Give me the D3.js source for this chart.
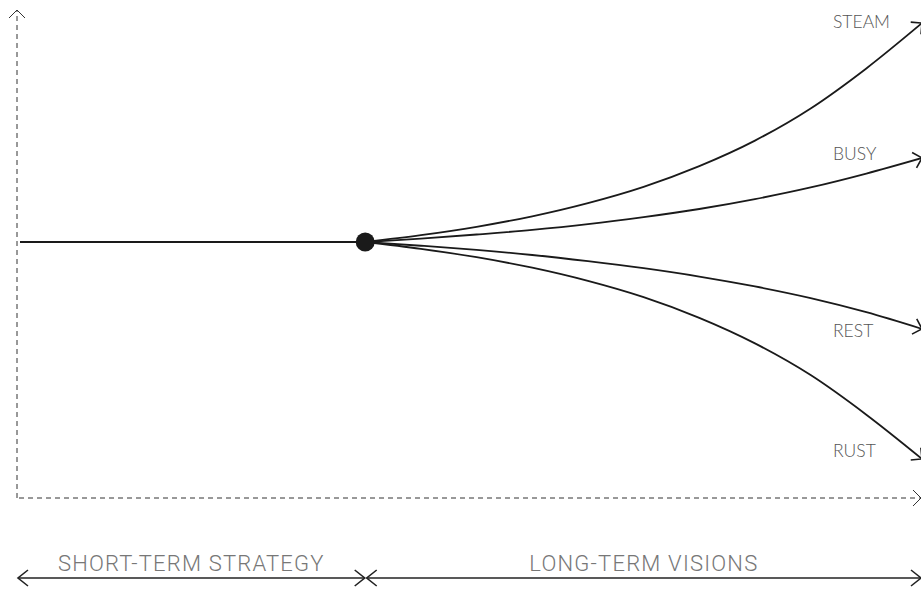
<!DOCTYPE html>
<html>
<head>
<meta charset="utf-8">
<script src="https://cdn.jsdelivr.net/npm/d3@7"></script>
<style>
  html, body { margin: 0; padding: 0; background: #fff; }
  svg { display: block; }
</style>
</head>
<body>
<div id="chart"></div>
<script>
// ---- data ----
const scenarios = ["STEAM", "BUSY", "REST", "RUST"];
const futureSteps = [0, 1, 2, 3, 4, 5, 6, 7, 8, 9, 10];
const steamValues = [0, 0.31, 0.69, 1.17, 1.77, 2.51, 3.45, 4.61, 6.07, 7.89, 9.95];
const busyValues  = [0, 0.15, 0.34, 0.55, 0.81, 1.13, 1.50, 1.95, 2.48, 3.11, 3.82];
const restValues  = [0, -0.17, -0.36, -0.59, -0.87, -1.19, -1.57, -2.02, -2.55, -3.19, -3.95];
const rustValues  = [0, -0.31, -0.69, -1.17, -1.77, -2.51, -3.45, -4.61, -6.05, -7.85, -9.86];
const pastSteps = [-6.2, 0];
const pastValues = [0, 0];
const periodLabels = ["SHORT-TERM STRATEGY", "LONG-TERM VISIONS"];
const periodRanges = [[-6.2, 0], [0, 10]];

const W = 921, H = 589;
const svg = d3.select("#chart").append("svg").attr("width", W).attr("height", H);

const x = d3.scaleLinear().domain([-6.2, 10]).range([20, 922]);
const y = d3.scaleLinear().domain([-10, 10]).range([462, 22]);

// markers
const defs = svg.append("defs");
function marker(id, color, w, path) {
  defs.append("marker")
    .attr("id", id).attr("markerUnits", "userSpaceOnUse")
    .attr("viewBox", "-12 -12 24 24").attr("markerWidth", 24).attr("markerHeight", 24)
    .attr("refX", 0).attr("refY", 0).attr("orient", "auto-start-reverse")
    .append("path").attr("d", path)
    .attr("fill", "none").attr("stroke", color).attr("stroke-width", w)
    .attr("stroke-linejoin", "miter");
}
marker("arr", "#1a1a1a", 1.6, "M-8,-8 L0,0 L-8,8");
marker("arrAxis", "#333", 1.0, "M-8,-8 L0,0 L-8,8");
marker("arrSpan", "#222", 1.6, "M-10,-8 L0,0 L-10,8");

// axes (dashed)
const axisX = 17, axisY = 498;
svg.append("line").attr("x1", axisX).attr("y1", axisY).attr("x2", axisX).attr("y2", 10)
  .attr("stroke", "#333").attr("stroke-width", 1).attr("stroke-dasharray", "5,4")
  .attr("marker-end", "url(#arrAxis)");
svg.append("line").attr("x1", axisX + 2).attr("y1", axisY).attr("x2", 921).attr("y2", axisY)
  .attr("stroke", "#333").attr("stroke-width", 1).attr("stroke-dasharray", "5,4")
  .attr("marker-end", "url(#arrAxis)");

// past line
const line = d3.line().x(d => x(d[0])).y(d => y(d[1])).curve(d3.curveMonotoneX);
svg.append("path")
  .attr("d", line(pastSteps.map((s, i) => [s, pastValues[i]])))
  .attr("fill", "none").attr("stroke", "#1a1a1a").attr("stroke-width", 1.8);

// scenarios
const series = [steamValues, busyValues, restValues, rustValues];
const labelDy = [5, 2, 8, -2];
series.forEach((vals, i) => {
  svg.append("path")
    .attr("d", line(futureSteps.map((s, j) => [s, vals[j]])))
    .attr("fill", "none").attr("stroke", "#1a1a1a").attr("stroke-width", 1.8)
    .attr("marker-end", "url(#arr)");
  svg.append("text")
    .attr("x", 833).attr("y", y(vals[vals.length - 1]) + labelDy[i])
    .attr("font-family", "'Lato Light', Lato, sans-serif").attr("font-weight", 300)
    .attr("font-size", 17.5).attr("fill", "#555")
    .text(scenarios[i]);
});

// present dot
svg.append("circle").attr("cx", x(0)).attr("cy", y(0)).attr("r", 9.5).attr("fill", "#1a1a1a");

// period spans
const spanY = 578;
periodRanges.forEach((r, i) => {
  const x1 = i === 0 ? 18 : x(r[0]) + 1.5;
  const x2 = i === 0 ? x(r[1]) - 0.5 : 921;
  svg.append("line").attr("x1", x1).attr("y1", spanY).attr("x2", x2).attr("y2", spanY)
    .attr("stroke", "#222").attr("stroke-width", 1.6)
    .attr("marker-start", "url(#arrSpan)").attr("marker-end", "url(#arrSpan)");
  svg.append("text")
    .attr("x", (x1 + x2) / 2).attr("y", 571).attr("text-anchor", "middle")
    .attr("font-family", "'Roboto Light', Roboto, sans-serif").attr("font-weight", 300)
    .attr("font-size", 22).attr("letter-spacing", 1.2).attr("fill", "#777")
    .text(periodLabels[i]);
});
</script>
</body>
</html>
